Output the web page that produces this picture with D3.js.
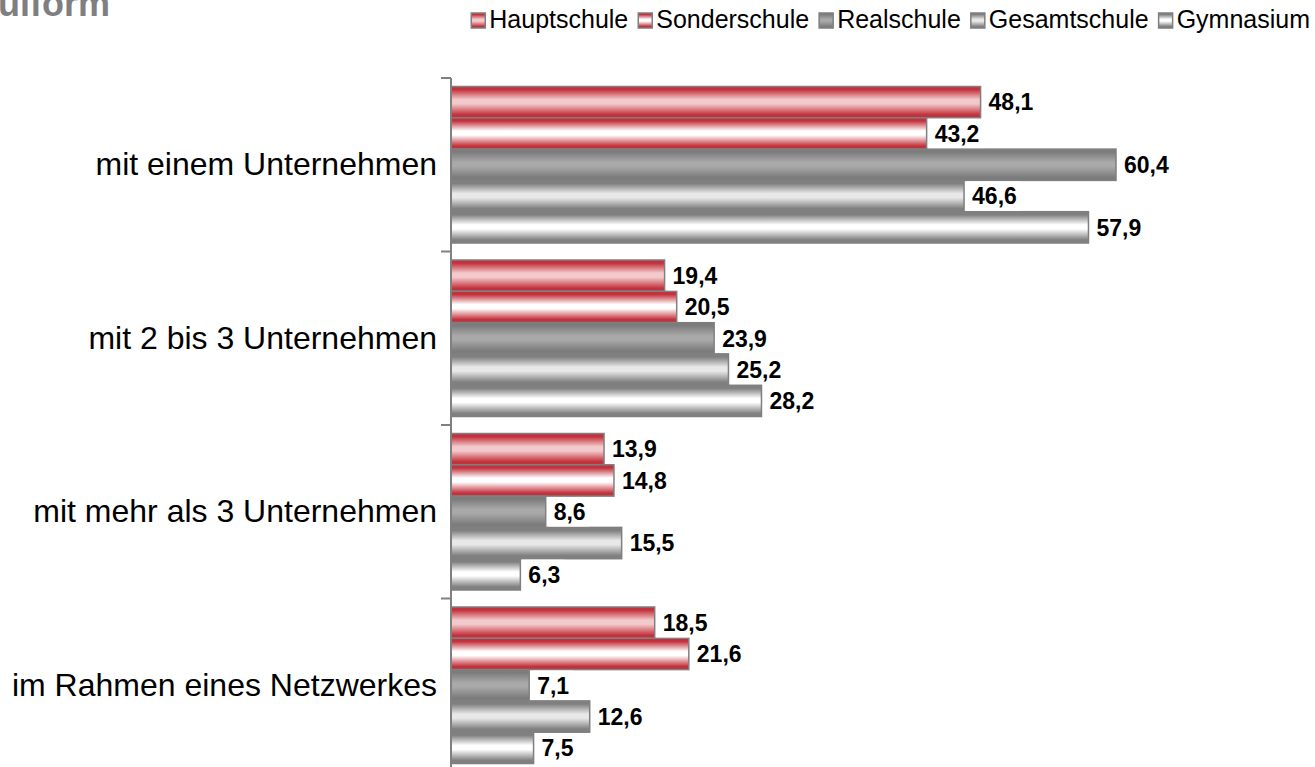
<!DOCTYPE html>
<html lang="de">
<head>
<meta charset="UTF-8">
<title>Kooperationen nach Schulform</title>
<script src="https://d3js.org/d3.v7.min.js"></script>
<style>
  body { margin: 0; padding: 0; background: #fff; font-family: Arial, "Liberation Sans", sans-serif; }
  svg { display: block; }
  .cat text { fill: #000; }
  .val { font-size: 23px; font-weight: bold; fill: #000; }
  .legend text { font-size: 25px; fill: #000; }
</style>
</head>
<body>
<div id="chart"></div>
<script>
// data
const categories = ["mit einem Unternehmen", "mit 2 bis 3 Unternehmen", "mit mehr als 3 Unternehmen", "im Rahmen eines Netzwerkes"];
const series = ["Hauptschule", "Sonderschule", "Realschule", "Gesamtschule", "Gymnasium"];
const hauptschule = [48.1, 19.4, 13.9, 18.5];
const sonderschule = [43.2, 20.5, 14.8, 21.6];
const realschule = [60.4, 23.9, 8.6, 7.1];
const gesamtschule = [46.6, 25.2, 15.5, 12.6];
const gymnasium = [57.9, 28.2, 6.3, 7.5];
const values = [hauptschule, sonderschule, realschule, gesamtschule, gymnasium];

// gradient stops per series: [edge colour, middle colour]
const shades = [
  ["#c3323c", "#f3cacc"],
  ["#c3323c", "#ffffff"],
  ["#7c7c7c", "#a9a9a9"],
  ["#808080", "#e8e8e8"],
  ["#808080", "#ffffff"]
];

const width = 1315, height = 767;
const svg = d3.select("#chart").append("svg")
  .attr("width", width).attr("height", height);

const defs = svg.append("defs");
shades.forEach((s, i) => {
  const g = defs.append("linearGradient")
    .attr("id", "grad" + i)
    .attr("x1", 0).attr("y1", 0).attr("x2", 0).attr("y2", 1);
  const stops = [[0, s[0]], [0.1, s[0]], [0.42, s[1]], [0.55, s[1]], [0.9, s[0]], [1, s[0]]];
  stops.forEach(([o, c]) => g.append("stop").attr("offset", o).attr("stop-color", c));
});

// title (cut off at top left like the source)
svg.append("text")
  .attr("x", -2).attr("y", 16)
  .attr("font-size", 36).attr("font-weight", "bold")
  .attr("fill", "#7f7f7f")
  .text("ulform");

const x = d3.scaleLinear().domain([0, 60.4]).range([451, 1116]);
const y = d3.scaleBand().domain(categories).range([78, 772]);
const y1 = d3.scaleBand().domain(series).range([8.5, 165]);

// bars
const groups = svg.selectAll(".grp")
  .data(categories)
  .enter().append("g")
  .attr("class", "grp")
  .attr("transform", d => `translate(0,${y(d)})`);

groups.each(function(cat, ci) {
  const g = d3.select(this);
  series.forEach((s, si) => {
    const v = values[si][ci];
    g.append("rect")
      .attr("x", x(0))
      .attr("y", y1(s))
      .attr("width", x(v) - x(0))
      .attr("height", y1.bandwidth())
      .attr("fill", `url(#grad${si})`)
      .attr("stroke", "#7f7f7f")
      .attr("stroke-width", 1.5);
  });
  series.forEach((s, si) => {
    const v = values[si][ci];
    const label = d3.format(".1f")(v).replace(".", ",");
    const bg = g.append("rect").attr("fill", "#fff");
    const t = g.append("text")
      .attr("class", "val")
      .attr("x", x(v) + 8)
      .attr("y", y1(s) + y1.bandwidth() / 2)
      .attr("dy", "0.36em")
      .text(label);
    const w = t.node().getComputedTextLength();
    bg.attr("x", x(v) + 2).attr("y", y1(s) + 1)
      .attr("width", w + 10).attr("height", y1.bandwidth() - 2);
  });
});

// axis on the left
const axis = svg.append("g")
  .attr("class", "cat")
  .attr("transform", `translate(${x(0)},0)`)
  .call(d3.axisLeft(y).tickSize(0).tickPadding(14));
axis.select(".domain").remove();
axis.selectAll("text")
  .attr("font-family", "Arial, 'Liberation Sans', sans-serif")
  .attr("font-size", 32)
  .attr("fill", "#000");

svg.append("line")
  .attr("x1", x(0)).attr("x2", x(0))
  .attr("y1", 78).attr("y2", height)
  .attr("stroke", "#808080").attr("stroke-width", 2);

const tickYs = categories.map(c => y(c));
svg.selectAll(".tk")
  .data(tickYs)
  .enter().append("line")
  .attr("x1", x(0) - 10).attr("x2", x(0))
  .attr("y1", d => d).attr("y2", d => d)
  .attr("stroke", "#808080").attr("stroke-width", 2);

// legend, right aligned
const legend = svg.append("g").attr("class", "legend");
const items = legend.selectAll("g")
  .data(series)
  .enter().append("g");
items.append("rect")
  .attr("width", 14).attr("height", 15)
  .attr("y", 13)
  .attr("fill", (d, i) => `url(#grad${i})`)
  .attr("stroke", "#7f7f7f").attr("stroke-width", 1.5);
items.append("text")
  .attr("x", 18).attr("y", 28)
  .text(d => d);
let cursor = 0;
const widths = [];
items.each(function() { widths.push(this.getBBox().width); });
const total = d3.sum(widths) + 10 * (widths.length - 1);
cursor = 1310 - total;
items.attr("transform", (d, i) => {
  const tx = cursor;
  cursor += widths[i] + 10;
  return `translate(${tx},0)`;
});
</script>
</body>
</html>
